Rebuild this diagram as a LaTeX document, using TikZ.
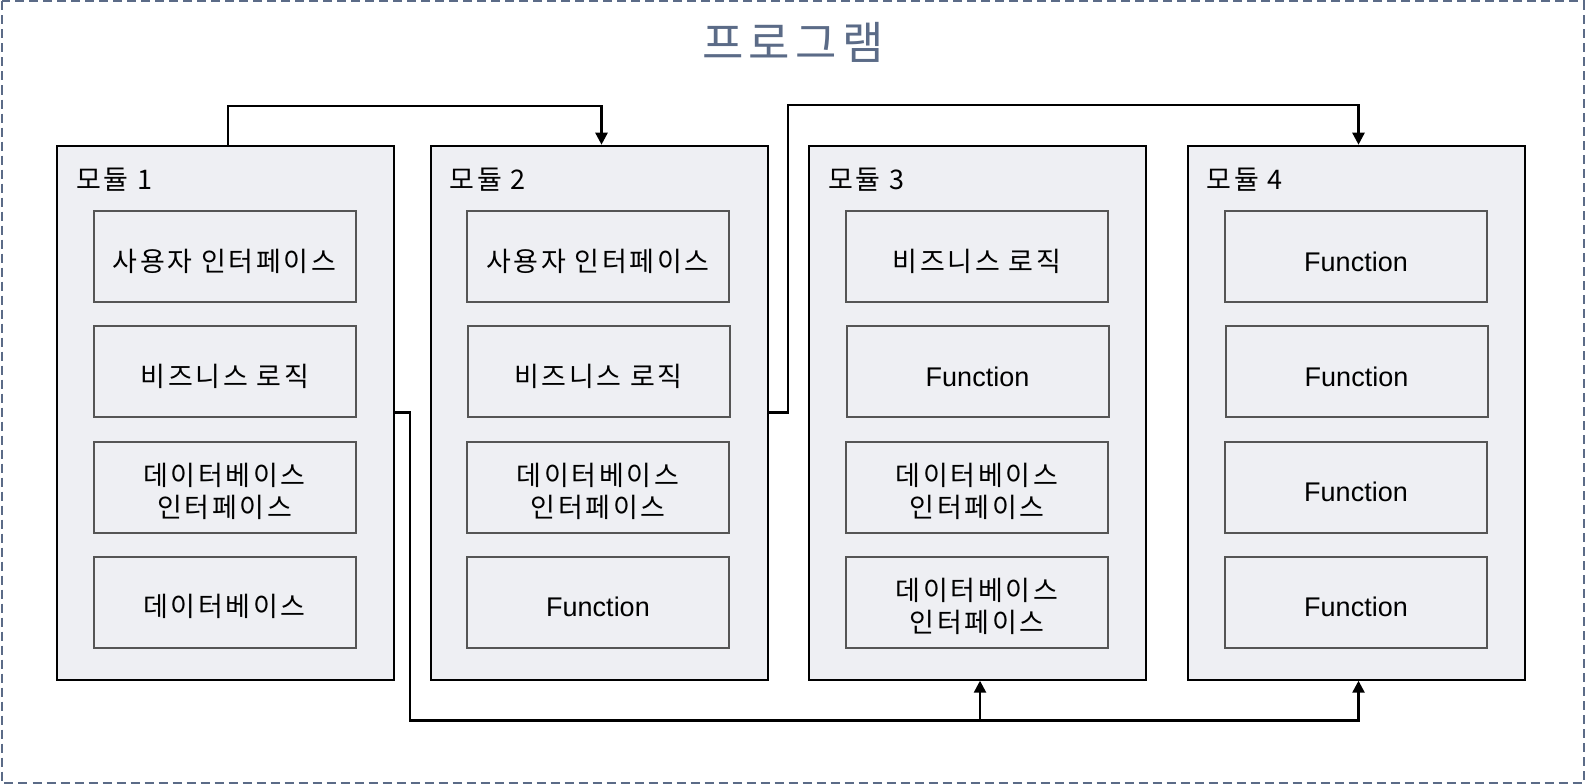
\documentclass[tikz,border=0pt]{standalone}
\usepackage{fontspec}
\setmainfont{Liberation Sans}
\newfontfamily\kr[LetterSpace=10]{Noto Sans CJK KR}
\newfontfamily\krtitle[LetterSpace=12]{Noto Sans CJK KR}
\usetikzlibrary{arrows.meta}
\definecolor{modfill}{RGB}{238,239,243}
\definecolor{frameblue}{RGB}{91,107,135}
\definecolor{innerline}{RGB}{85,85,85}
\newcommand{\boxtext}[1]{\raisebox{-8pt}[\height][\depth]{\begin{tabular}{@{}c@{}}#1\end{tabular}}}
\tikzset{
  modbox/.style={draw=black, line width=2pt, fill=modfill, minimum width=337pt, minimum height=534pt, inner sep=0pt},
  innerbox/.style={draw=innerline, line width=2pt, fill=modfill, minimum width=262pt, minimum height=91pt, inner sep=0pt, font=\fontsize{27}{32.5}\selectfont},
  modlabel/.style={anchor=west, inner sep=0pt, font=\kr\fontsize{27}{32}\selectfont},
  conn/.style={draw=black, line width=2.5pt, -{Triangle[length=12pt,width=12pt]}}
}
\begin{document}
\begin{tikzpicture}[x=1pt,y=-1pt]
\useasboundingbox (0,0) rectangle (1585,784);
\draw[frameblue, line width=2pt, dash pattern=on 9pt off 5pt] (1.5,1.5) rectangle (1583.5,782.5);
\node[font=\krtitle\fontsize{45}{50}\selectfont, text=frameblue, inner sep=0pt] (title) at (793,42) {프로그램};

% modules
\node[modbox] (m1) at (225.5,412.7) {};
\node[modbox] (m2) at (599,412.7) {};
\node[modbox] (m3) at (977.5,412.7) {};
\node[modbox] (m4) at (1356,412.7) {};

\node[modlabel] (l1) at (76,180) {모듈 1};
\node[modlabel] (l2) at (449.5,180) {모듈 2};
\node[modlabel] (l3) at (828,180) {모듈 3};
\node[modlabel] (l4) at (1206.5,180) {모듈 4};

% module 1
\node[innerbox] (a1) at (224.5,256.5) {\boxtext{\kr 사용자 인터페이스}};
\node[innerbox] (a2) at (225,371.5) {\boxtext{\kr 비즈니스 로직}};
\node[innerbox] (a3) at (224.5,487) {\boxtext{\kr 데이터베이스\\\kr 인터페이스}};
\node[innerbox] (a4) at (224.5,602) {\boxtext{\kr 데이터베이스}};
% module 2
\node[innerbox] (b1) at (598,256.5) {\boxtext{\kr 사용자 인터페이스}};
\node[innerbox] (b2) at (598.5,371.5) {\boxtext{\kr 비즈니스 로직}};
\node[innerbox] (b3) at (598,487) {\boxtext{\kr 데이터베이스\\\kr 인터페이스}};
\node[innerbox] (b4) at (598,602) {\boxtext{Function}};
% module 3
\node[innerbox] (c1) at (977,256.5) {\boxtext{\kr 비즈니스 로직}};
\node[innerbox] (c2) at (977.5,371.5) {\boxtext{Function}};
\node[innerbox] (c3) at (977,487) {\boxtext{\kr 데이터베이스\\\kr 인터페이스}};
\node[innerbox] (c4) at (977,602) {\boxtext{\kr 데이터베이스\\\kr 인터페이스}};
% module 4
\node[innerbox] (d1) at (1356,256.5) {\boxtext{Function}};
\node[innerbox] (d2) at (1356.5,371.5) {\boxtext{Function}};
\node[innerbox] (d3) at (1356,487) {\boxtext{Function}};
\node[innerbox] (d4) at (1356,602) {\boxtext{Function}};

% connectors
\coordinate (t1) at (0,106);
\coordinate (t2) at (0,105);
\coordinate (xa) at (410,0);
\coordinate (xb) at (788,0);
\coordinate (yb) at (0,720.5);
\coordinate (p1) at ([xshift=2.5pt]m1.north);
\coordinate (p2) at ([xshift=2.5pt]m2.north);
\coordinate (p4n) at ([xshift=2.5pt]m4.north);
\coordinate (p3s) at ([xshift=2.5pt]m3.south);
\coordinate (p4s) at ([xshift=2.5pt]m4.south);

\draw[conn] (p1) -- (p1 |- t1) -- (p2 |- t1) -- (p2);
\draw[conn] (m2.east) -- (xb |- m2.east) -- (xb |- t2) -- (p4n |- t2) -- (p4n);
\draw[conn] (m1.east) -- (xa |- m1.east) -- (xa |- yb) -- (p4s |- yb) -- (p4s);
\draw[conn] (p3s |- yb) -- (p3s);
\end{tikzpicture}
\end{document}
